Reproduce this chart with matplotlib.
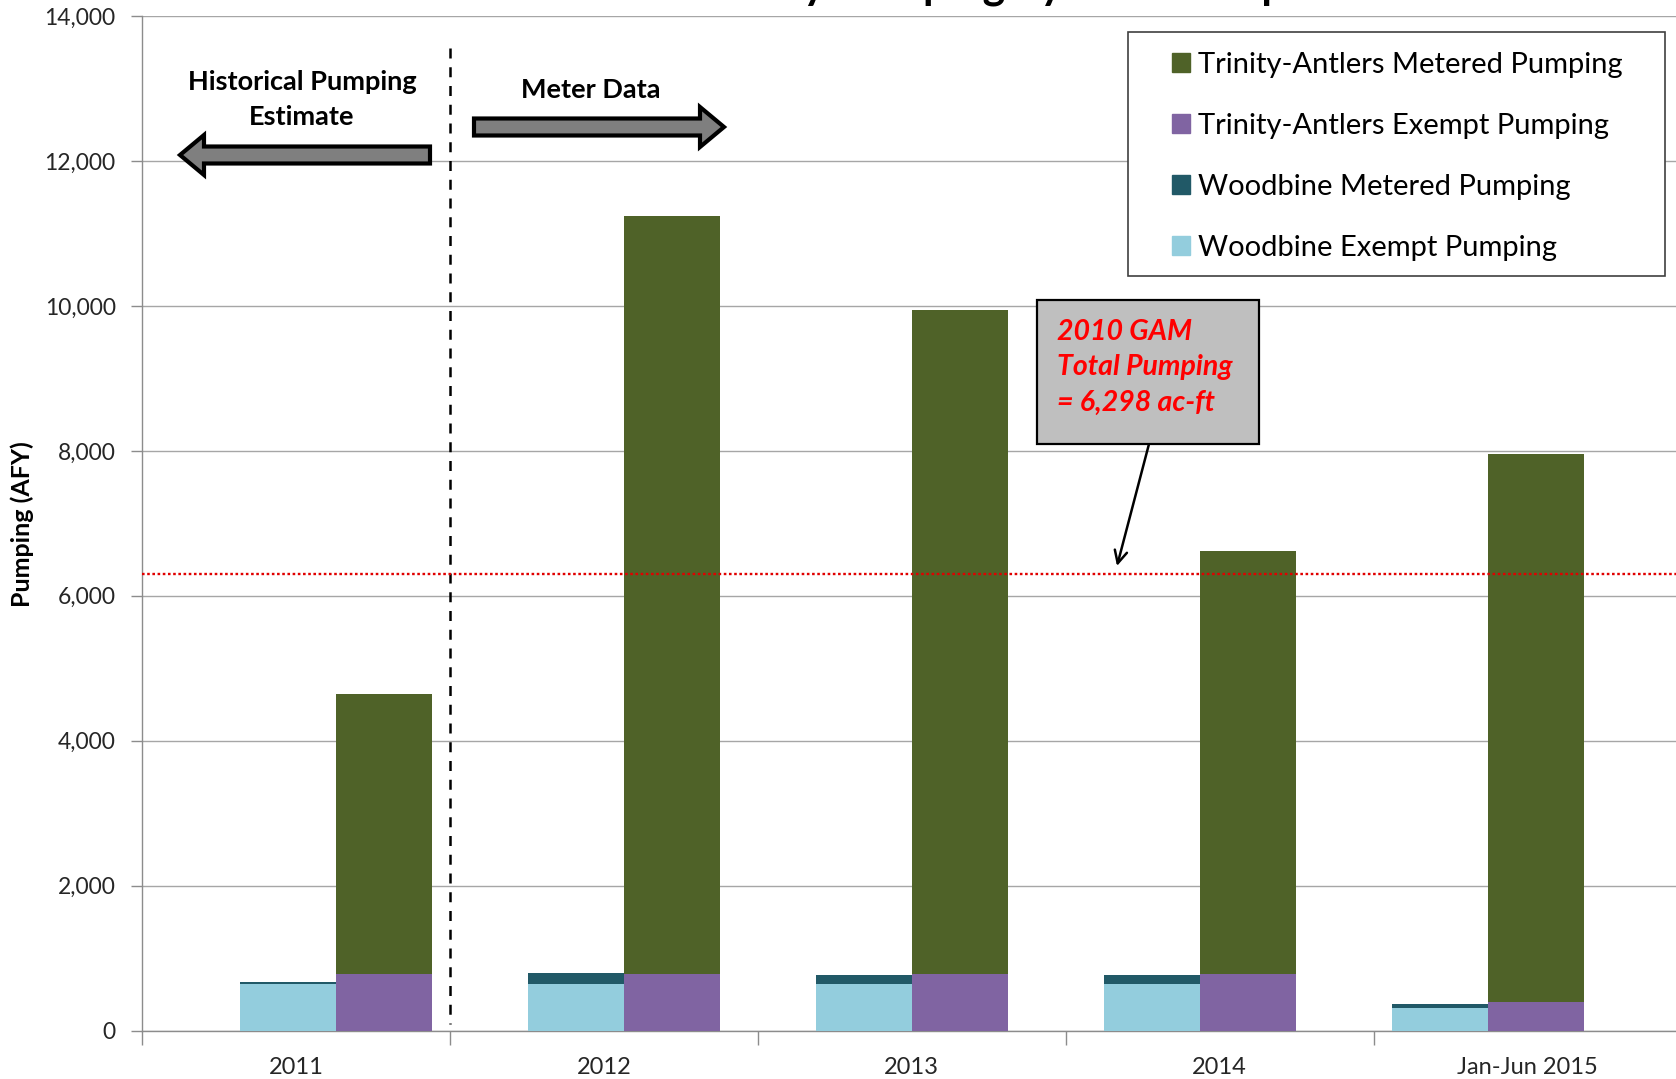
import matplotlib
matplotlib.use("Agg")
import matplotlib.pyplot as plt
import numpy as np
from matplotlib.patches import Patch, Rectangle, FancyArrow
from matplotlib.transforms import IdentityTransform
from matplotlib.ticker import FuncFormatter

# Pumping by aquifer and use type (acre-feet per year)
years = ["2011", "2012", "2013", "2014", "Jan-Jun 2015"]
woodbine_exempt = [650, 650, 650, 650, 320]
woodbine_metered = [20, 145, 115, 115, 55]
trinity_exempt = [780, 780, 780, 780, 390]
trinity_metered = [3870, 10460, 9160, 5840, 7570]
gam_total = 6298

c_tri_met = "#4F6228"
c_tri_ex = "#8064A2"
c_wb_met = "#215967"
c_wb_ex = "#93CDDD"

plt.rcParams["font.family"] = ["Lato", "DejaVu Sans"]

W, H = 1676, 1079
fig = plt.figure(figsize=(W / 100, H / 100), dpi=100)
PIX = IdentityTransform()


def top(y):
    """Convert a top-origin pixel row to a figure-pixel y."""
    return H - y


# plot area (right edge runs past the canvas)
x0, x1, y0, y1 = 142, 1681.5, 16, 1030.7
ax = fig.add_axes([x0 / W, 1 - y1 / H, (x1 - x0) / W, (y1 - y0) / H])

# clustered stacked bars live on their own horizontal scale
axb = ax.twiny()

ax.set_xlim(-0.5, 4.5)
ax.set_ylim(0, 14000)
ax.set_yticks(np.arange(0, 14001, 2000))
ax.yaxis.set_major_formatter(FuncFormatter(lambda v, p: f"{v:,.0f}"))
ax.yaxis.grid(True, color="#A6A6A6", lw=1.0)
ax.set_axisbelow(True)

ax.set_xticks(np.arange(-0.5, 4.0, 1.0))
ax.set_xticklabels([])
ax.set_xticks(np.arange(len(years)), minor=True)
ax.set_xticklabels(years, minor=True)
ax.tick_params(axis="x", which="major", length=10, width=1, color="#8C8C8C")
ax.tick_params(axis="x", which="minor", length=0, pad=19, labelsize=17,
               labelcolor="#262626", labelbottom=True)
ax.tick_params(axis="y", length=8, width=1, color="#8C8C8C", pad=11,
               labelsize=16.5, labelcolor="#262626")
for s in ("top", "right"):
    ax.spines[s].set_visible(False)
for s in ("left", "bottom"):
    ax.spines[s].set_color("#8C8C8C")
    ax.spines[s].set_linewidth(1.0)

# divider between estimated and metered years (dashes start at the top)
ax.plot([0.5, 0.5], [13560, 90], color="black", lw=1.8, ls=(0, (4, 3.5)),
        zorder=3)

axb.set_xlim(-0.6717, 4.670)
axb.axis("off")
xb = np.arange(len(years))
bw = 1 / 3
axb.bar(xb - bw / 2, woodbine_exempt, bw, color=c_wb_ex, lw=0)
axb.bar(xb - bw / 2, woodbine_metered, bw, bottom=woodbine_exempt,
        color=c_wb_met, lw=0)
axb.bar(xb + bw / 2, trinity_exempt, bw, color=c_tri_ex, lw=0)
axb.bar(xb + bw / 2, trinity_metered, bw, bottom=trinity_exempt,
        color=c_tri_met, lw=0)
axb.axhline(gam_total, color="#E00000", lw=1.7, ls=(0, (1.1, 1.1)), zorder=5)

# title (runs off the top edge)
fig.text(1040, H + 1, "Fannin County Pumping by Year Compared to GAM",
         transform=PIX, ha="center", va="baseline", fontsize=31,
         fontweight="bold", color="black")

# y-axis label
fig.text(22, top(524), "Pumping (AFY)", transform=PIX, rotation=90,
         ha="center", va="center", fontsize=18, fontweight="bold")

# period annotations
fig.text(302, top(99.5), "Historical Pumping\nEstimate", transform=PIX,
         ha="center", va="center", fontsize=19.5, fontweight="bold",
         linespacing=1.53)
fig.text(591, top(90), "Meter Data", transform=PIX, ha="center",
         va="center", fontsize=19.5, fontweight="bold")
fig.add_artist(FancyArrow(430, top(155), -250, 0, width=17, head_width=40,
                          head_length=24, length_includes_head=True,
                          fc="#7F7F7F", ec="black", lw=3, transform=PIX))
fig.add_artist(FancyArrow(474, top(127), 250, 0, width=17, head_width=40,
                          head_length=24, length_includes_head=True,
                          fc="#7F7F7F", ec="black", lw=3, transform=PIX))

# GAM callout
fig.add_artist(Rectangle((1037, top(444)), 222, 144, transform=PIX,
                         fc="#BFBFBF", ec="black", lw=1.6))
fig.text(1057, top(319), f"2010 GAM\nTotal Pumping\n= {gam_total:,} ac-ft",
         transform=PIX, ha="left", va="top", fontsize=20.5, fontweight="bold",
         style="italic", color="#FF0000", linespacing=1.45)
ax.annotate("", xy=(1117, top(566)), xytext=(1149, top(444)),
            xycoords="figure pixels", textcoords="figure pixels",
            arrowprops=dict(arrowstyle="->,head_length=0.9,head_width=0.45",
                            color="black", lw=1.8, shrinkA=0, shrinkB=0))

# legend
fig.add_artist(Rectangle((1128, top(276)), 537, 244, transform=PIX,
                         fc="white", ec="#404040", lw=1.2))
handles = [Patch(color=c_tri_met), Patch(color=c_tri_ex),
           Patch(color=c_wb_met), Patch(color=c_wb_ex)]
labels = ["Trinity-Antlers Metered Pumping", "Trinity-Antlers Exempt Pumping",
          "Woodbine Metered Pumping", "Woodbine Exempt Pumping"]
fig.legend(handles, labels, loc="upper left", bbox_to_anchor=(1172, top(52)),
           bbox_transform=PIX, frameon=False, fontsize=21, handlelength=0.62,
           handleheight=0.62, handletextpad=0.28, labelspacing=1.20,
           borderpad=0, borderaxespad=0)

fig.savefig("out.png", dpi=100)
